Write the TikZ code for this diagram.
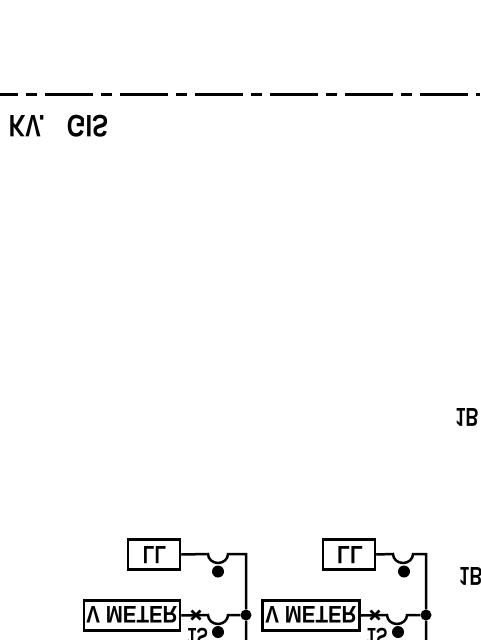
\documentclass[tikz,border=0pt]{standalone}
\usepackage{fontspec}
\setmainfont{Liberation Sans}
\usepackage{tikz}
\tikzset{
  flipped/.style 2 args={xscale=#1,yscale=-#2,font=\bfseries,inner sep=0pt},
  meterbox/.style={draw,line width=2.5pt,minimum height=30pt,inner sep=0pt},
  wire/.style={line width=2.5pt},
  dot/.style={circle,fill=black,inner sep=0pt,minimum size=#1}
}
\begin{document}
\begin{tikzpicture}[x=1pt,y=-1pt]
  \useasboundingbox (0,0) rectangle (480,640);
  \coordinate (busleft) at (0,94.5);
  \coordinate (busright) at (480,94.5);
  \draw[line width=3pt,dash pattern=on 48pt off 8pt on 11pt off 8pt,dash phase=30pt] (busleft) -- (busright);
  \node[flipped={2.3}{3.1}] (kv) at (27,126) {KV.};
  \node[flipped={2.4}{3.1}] (gis) at (87.5,126) {GIS};
  \node[flipped={1.8}{2.6}] (ibone) at (467,417) {1B};
  \node[flipped={1.8}{2.6}] (ibtwo) at (471,576.5) {1B};
  % left pair
  \node[meterbox,minimum width=52pt] (llone) at (154,554.5) {};
  \node[flipped={1.9}{2.5}] at (154.5,555.5) {LL};
  \node[meterbox,minimum width=96pt] (vmone) at (132,615.5) {};
  \node[flipped={2.05}{2.4}] at (132,615) {V METER};
  \node[dot=11pt] (junone) at (246,615) {};
  \coordinate (cornerone) at (246,554);
  \coordinate (endone) at (246,640);
  \node[dot=12pt] (lampone) at (218,571.5) {};
  \node[dot=12pt] (lamptwo) at (218,632) {};
  \node[flipped={1.7}{2.4}] (isone) at (197.5,636.5) {1S};
  \draw[wire] (llone.east) -- (208,554) arc (180:0:10pt and -9pt) -- (cornerone) -- (junone) -- (endone);
  \draw[wire] (vmone.east) -- (208,615) arc (180:0:10pt and -9pt) -- (junone);
  \draw[wire] (191.5,610.5) -- (200.5,619.5) (191.5,619.5) -- (200.5,610.5);
  % right pair
  \node[meterbox,minimum width=52pt] (lltwo) at (349,554.5) {};
  \node[flipped={2.1}{2.5}] at (350,555.5) {LL};
  \node[meterbox,minimum width=97pt] (vmtwo) at (311,615.5) {};
  \node[flipped={2.05}{2.4}] at (311,615) {V METER};
  \node[dot=11pt] (juntwo) at (426,615) {};
  \coordinate (cornertwo) at (426,554);
  \coordinate (endtwo) at (426,640);
  \node[dot=12pt] (lampthree) at (404,571.5) {};
  \node[dot=12pt] (lampfour) at (398,632) {};
  \node[flipped={1.7}{2.4}] (istwo) at (377,636.5) {1S};
  \draw[wire] (lltwo.east) -- (393,554) arc (180:0:10pt and -9pt) -- (cornertwo) -- (juntwo) -- (endtwo);
  \draw[wire] (vmtwo.east) -- (387,615) arc (180:0:10pt and -9pt) -- (juntwo);
  \draw[wire] (370.5,610.5) -- (379.5,619.5) (370.5,619.5) -- (379.5,610.5);
\end{tikzpicture}
\end{document}
